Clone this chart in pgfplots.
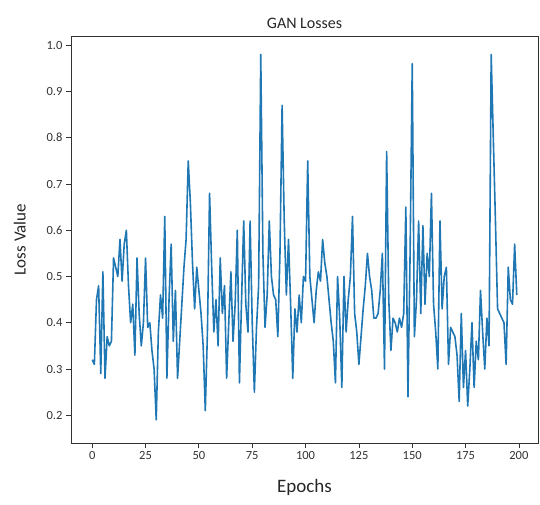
\documentclass[border=0pt]{standalone}
\usepackage{pgfplots}
\pgfplotsset{compat=1.18}
\usepackage{fontspec}
\setmainfont{Carlito}
\definecolor{mplblue}{HTML}{1F77B4}

% loss value per epoch
\pgfplotstableread{
epoch loss
0 0.32
1 0.31
2 0.45
3 0.48
4 0.29
5 0.51
6 0.28
7 0.37
8 0.35
9 0.36
10 0.54
11 0.52
12 0.50
13 0.58
14 0.49
15 0.57
16 0.60
17 0.48
18 0.40
19 0.44
20 0.33
21 0.54
22 0.42
23 0.35
24 0.40
25 0.54
26 0.39
27 0.40
28 0.34
29 0.30
30 0.19
31 0.38
32 0.46
33 0.41
34 0.63
35 0.28
36 0.45
37 0.57
38 0.36
39 0.47
40 0.28
41 0.36
42 0.44
43 0.52
44 0.58
45 0.75
46 0.66
47 0.53
48 0.43
49 0.52
50 0.47
51 0.42
52 0.35
53 0.21
54 0.38
55 0.68
56 0.52
57 0.38
58 0.45
59 0.35
60 0.54
61 0.42
62 0.48
63 0.28
64 0.40
65 0.51
66 0.36
67 0.44
68 0.60
69 0.27
70 0.45
71 0.62
72 0.44
73 0.38
74 0.62
75 0.40
76 0.25
77 0.39
78 0.48
79 0.98
80 0.55
81 0.39
82 0.46
83 0.62
84 0.50
85 0.46
86 0.45
87 0.37
88 0.55
89 0.87
90 0.62
91 0.46
92 0.58
93 0.44
94 0.28
95 0.43
96 0.38
97 0.46
98 0.40
99 0.50
100 0.49
101 0.75
102 0.50
103 0.45
104 0.40
105 0.47
106 0.51
107 0.49
108 0.58
109 0.53
110 0.50
111 0.45
112 0.40
113 0.36
114 0.27
115 0.50
116 0.41
117 0.26
118 0.50
119 0.38
120 0.45
121 0.50
122 0.63
123 0.42
124 0.38
125 0.31
126 0.37
127 0.43
128 0.48
129 0.55
130 0.50
131 0.47
132 0.41
133 0.41
134 0.42
135 0.47
136 0.55
137 0.30
138 0.77
139 0.45
140 0.34
141 0.41
142 0.40
143 0.38
144 0.41
145 0.39
146 0.42
147 0.65
148 0.24
149 0.55
150 0.96
151 0.37
152 0.45
153 0.62
154 0.42
155 0.61
156 0.44
157 0.55
158 0.50
159 0.68
160 0.44
161 0.38
162 0.30
163 0.62
164 0.43
165 0.50
166 0.52
167 0.31
168 0.39
169 0.38
170 0.37
171 0.33
172 0.23
173 0.42
174 0.26
175 0.34
176 0.22
177 0.30
178 0.40
179 0.26
180 0.36
181 0.32
182 0.47
183 0.38
184 0.30
185 0.41
186 0.35
187 0.98
188 0.80
189 0.62
190 0.43
191 0.42
192 0.41
193 0.40
194 0.31
195 0.52
196 0.45
197 0.44
198 0.57
199 0.46
}\losstable

\begin{document}
\begin{tikzpicture}
\begin{axis}[
  scale only axis,
  width=467pt, height=407pt,
  xmin=-9.95, xmax=208.95,
  ymin=0.14, ymax=1.02,
  xtick={0,25,...,200},
  ytick={0.2,0.3,...,1.0},
  yticklabel style={/pgf/number format/.cd, fixed, fixed zerofill, precision=1},
  /pgf/number format/assume math mode=true,
  tick align=outside,
  xtick pos=bottom, ytick pos=left,
  major tick length=5pt,
  tick style={black!80, line width=0.8pt},
  axis line style={black!80, line width=0.9pt},
  ticklabel style={font=\fontsize{12.5}{15}\selectfont, text=black!80},
  xlabel={Epochs},
  ylabel={Loss Value},
  xlabel style={font=\fontsize{19}{22}\selectfont, text=black!85, yshift=-13pt},
  ylabel style={font=\fontsize{17}{20}\selectfont, text=black!85, yshift=14pt},
  title={GAN Losses},
  title style={font=\fontsize{16}{19}\selectfont, text=black!85, yshift=-2pt},
]
\addplot[mplblue, line width=1.6pt, line join=round] table[x=epoch, y=loss] {\losstable};
\end{axis}
\pgfresetboundingbox
\useasboundingbox ([xshift=-71pt,yshift=-61pt]current axis.south west) rectangle ++(540pt,504pt);
\end{tikzpicture}
\end{document}
